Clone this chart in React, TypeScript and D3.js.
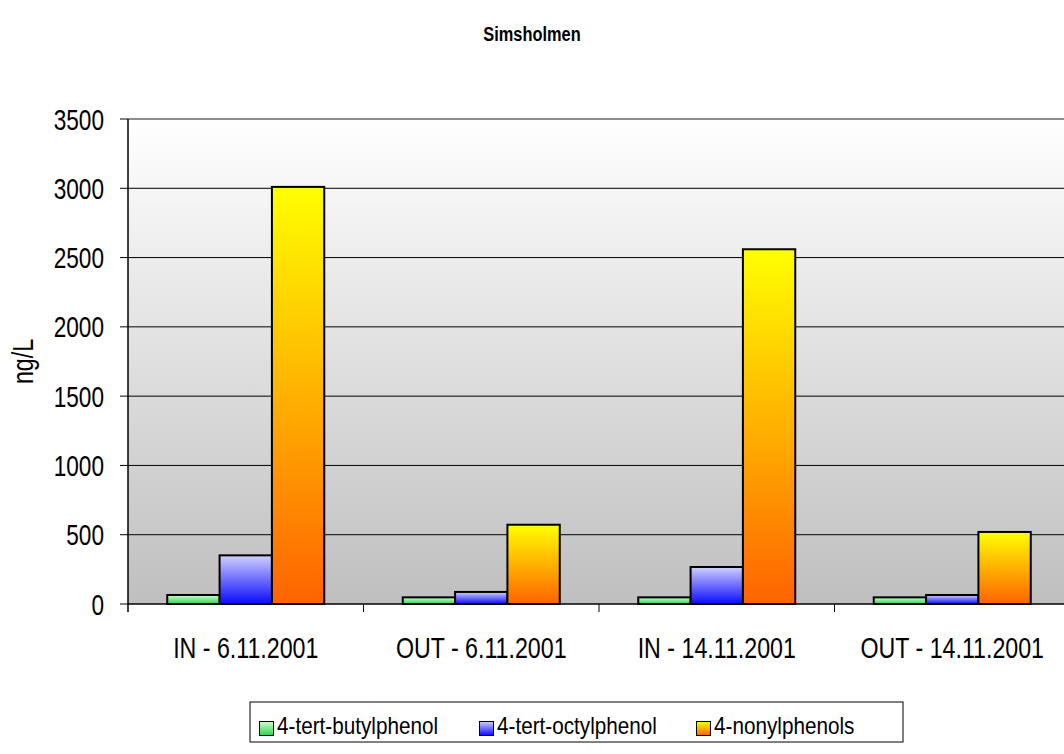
import React from "react";
import * as d3 from "d3";

const categories = ["IN - 6.11.2001", "OUT - 6.11.2001", "IN - 14.11.2001", "OUT - 14.11.2001"];
const seriesNames = ["4-tert-butylphenol", "4-tert-octylphenol", "4-nonylphenols"];
const butyl = [65, 48, 48, 48];
const octyl = [351, 87, 267, 65];
const nonyl = [3010, 572, 2560, 520];
const yTicks = [0, 500, 1000, 1500, 2000, 2500, 3000, 3500];
const title = "Simsholmen";
const yTitle = "ng/L";

const gradients = [
  { id: "gGreen", top: "#ccffcc", bottom: "#2ed24f" },
  { id: "gBlue", top: "#d0d0ff", bottom: "#0a0aff" },
  { id: "gOrange", top: "#ffff00", bottom: "#ff6300" },
];

function T(props: { x: number; y: number; sx: number; size: number; anchor?: string; bold?: boolean; rotate?: number; children: React.ReactNode }) {
  const { x, y, sx, size, anchor, bold, rotate, children } = props;
  return (
    <text
      transform={`translate(${x},${y})${rotate ? ` rotate(${rotate})` : ""} scale(${sx},1)`}
      textAnchor={anchor || "start"}
      fontSize={size}
      fontWeight={bold ? "bold" : "normal"}
      fill="#000"
    >
      {children}
    </text>
  );
}

export default function App() {
  const W = 1064, H = 754;
  const left = 128, top = 119, bottom = 604, right = 1070;
  const font = "'Liberation Sans', Arial, sans-serif";
  const values = [butyl, octyl, nonyl];

  const x0 = d3.scaleBand<string>().domain(categories).range([left, right]).paddingInner(0).paddingOuter(0);
  const x1 = d3.scaleBand<string>().domain(seriesNames).range([0, x0.bandwidth()]).paddingInner(0).paddingOuter(0.75);
  const y = d3.scaleLinear().domain([0, 3500]).range([bottom, top]);

  return (
    <svg width={W} height={H} style={{ position: "absolute", left: 0, top: 0, background: "#fff" }} fontFamily={font}>
      <defs>
        <linearGradient id="plotBg" x1="0" y1="0" x2="0" y2="1">
          <stop offset="0" stopColor="#ffffff" />
          <stop offset="1" stopColor="#bfbfbf" />
        </linearGradient>
        {gradients.map((g) => (
          <linearGradient key={g.id} id={g.id} x1="0" y1="0" x2="0" y2="1">
            <stop offset="0" stopColor={g.top} />
            <stop offset="1" stopColor={g.bottom} />
          </linearGradient>
        ))}
      </defs>
      <T x={532} y={41} sx={0.78} size={21} anchor="middle" bold>{title}</T>

      <rect x={left} y={top} width={right - left} height={bottom - top} fill="url(#plotBg)" />
      <line x1={left} x2={W} y1={top} y2={top} stroke="#8c8c8c" strokeWidth={2} />
      {yTicks.filter((t) => t > 0 && t < 3500).map((t) => (
        <line key={t} x1={left} x2={W} y1={y(t)} y2={y(t)} stroke="#000" strokeWidth={1} />
      ))}

      {categories.map((c, ci) =>
        seriesNames.map((s, si) => {
          const v = values[si][ci];
          const bx = (x0(c) as number) + (x1(s) as number);
          return (
            <rect key={c + s} x={bx} y={y(v)} width={x1.bandwidth()} height={y(0) - y(v)}
              fill={`url(#${gradients[si].id})`} stroke="#000" strokeWidth={2} />
          );
        })
      )}

      <line x1={left} x2={W} y1={bottom} y2={bottom} stroke="#000" strokeWidth={1.5} />
      <line x1={left} x2={left} y1={top} y2={bottom + 8} stroke="#000" strokeWidth={1.5} />
      {categories.map((c, ci) => ci > 0 ? (
        <line key={"tk" + c} x1={x0(c) as number} x2={x0(c) as number} y1={bottom} y2={bottom + 8} stroke="#000" strokeWidth={1} />
      ) : null)}
      {yTicks.map((t) => (
        <g key={"yt" + t}>
          <line x1={left - 8} x2={left} y1={y(t)} y2={y(t)} stroke="#000" strokeWidth={1} />
          <T x={104} y={y(t) + 10.5} sx={0.78} size={29} anchor="end">{t}</T>
        </g>
      ))}
      {categories.map((c) => (
        <T key={"cl" + c} x={(x0(c) as number) + x0.bandwidth() / 2} y={658} sx={0.8} size={29} anchor="middle">{c}</T>
      ))}
      <T x={33} y={(top + bottom) / 2} rotate={-90} sx={0.8} size={29} anchor="middle">{yTitle}</T>

      <rect x={250} y={702} width={653} height={40} fill="#fff" stroke="#000" strokeWidth={1} />
      {seriesNames.map((s, i) => {
        const sx = [259, 479, 696][i];
        return (
          <g key={"lg" + s}>
            <rect x={sx + 0.5} y={721.5} width={14} height={14} fill={`url(#${gradients[i].id})`} stroke="#000" strokeWidth={1} />
            <T x={sx + 18} y={734} sx={0.9} size={23}>{s}</T>
          </g>
        );
      })}
    </svg>
  );
}
